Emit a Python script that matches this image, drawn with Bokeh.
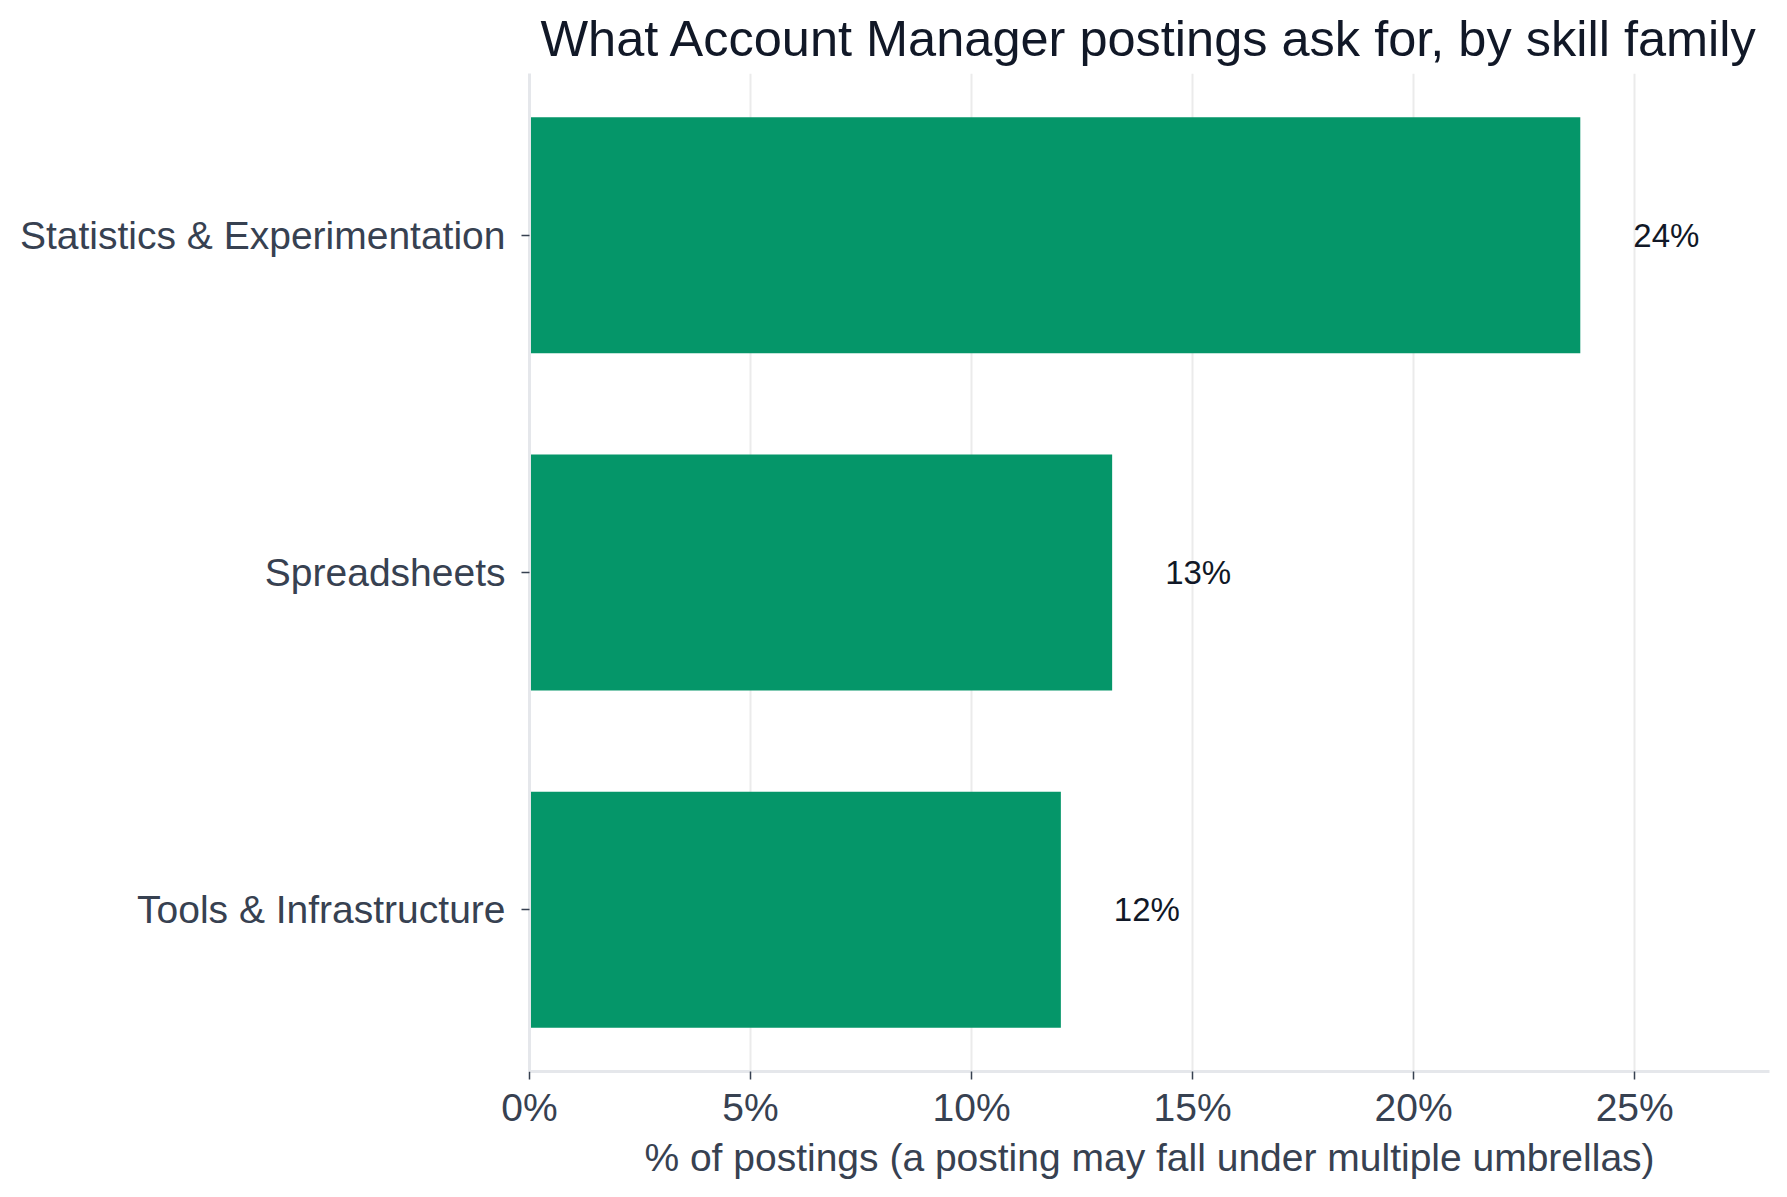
from bokeh.plotting import figure
from bokeh.models import FactorRange, Range1d, PrintfTickFormatter, ColumnDataSource, FixedTicker
from bokeh.core.properties import value
from bokeh.embed import file_html
from bokeh.resources import INLINE

categories = ["Statistics & Experimentation", "Spreadsheets", "Tools & Infrastructure"]
shares = [23.77, 13.18, 12.02]
x_ticks = [0, 5, 10, 15, 20, 25]

labels = [f"{v:.0f}%" for v in shares]
src = ColumnDataSource(dict(cat=categories, share=shares, label=labels))

FONT = "Liberation Sans"

p = figure(
    width=1771, height=1181,
    y_range=FactorRange(factors=list(reversed(categories)), range_padding=-0.02, range_padding_units="absolute"),
    x_range=Range1d(0, 28.05),
    output_backend="svg", toolbar_location=None,
    min_border_left=529, min_border_right=2, min_border_top=72, min_border_bottom=110,
    title="What Account Manager postings ask for, by skill family",
)
p.outline_line_color = None
p.background_fill_color = "white"
p.border_fill_color = "white"

p.hbar(y="cat", right="share", left=0, height=0.7, source=src, fill_color="#059669", line_color=None)
p.text(x="share", y="cat", text="label", source=src, x_offset=53, text_align="left",
       text_baseline="middle", text_font=value(FONT), text_font_size="33px", text_color="#111827")

p.title.text_font = FONT
p.title.text_font_size = "50.5px"
p.title.text_font_style = "normal"
p.title.text_color = "#111827"
p.title.align = "center"
p.title.standoff = 14

p.xaxis.ticker = FixedTicker(ticks=x_ticks)
p.xaxis.formatter = PrintfTickFormatter(format="%d%%")
p.xaxis.axis_label = "% of postings (a posting may fall under multiple umbrellas)"
for ax in (p.xaxis[0], p.yaxis[0]):
    ax.major_label_text_font = FONT
    ax.major_label_text_font_size = "39px"
    ax.major_label_text_color = "#374151"
    ax.axis_label_text_font = FONT
    ax.axis_label_text_font_size = "39px"
    ax.axis_label_text_font_style = "normal"
    ax.axis_label_text_color = "#374151"
    ax.major_tick_line_color = "#374151"
    ax.major_tick_line_width = 1.5
    ax.major_tick_in = 0
    ax.major_tick_out = 8
    ax.minor_tick_line_color = None
    ax.axis_line_color = "#e5e7eb"
    ax.axis_line_width = 3
p.xaxis.axis_label_standoff = 4
p.xaxis.major_label_standoff = 6
p.yaxis.major_label_standoff = 16

p.xgrid.grid_line_color = "#ebebeb"
p.xgrid.grid_line_width = 2
p.ygrid.grid_line_color = None

open("out.html", "w").write(file_html(p, INLINE))
